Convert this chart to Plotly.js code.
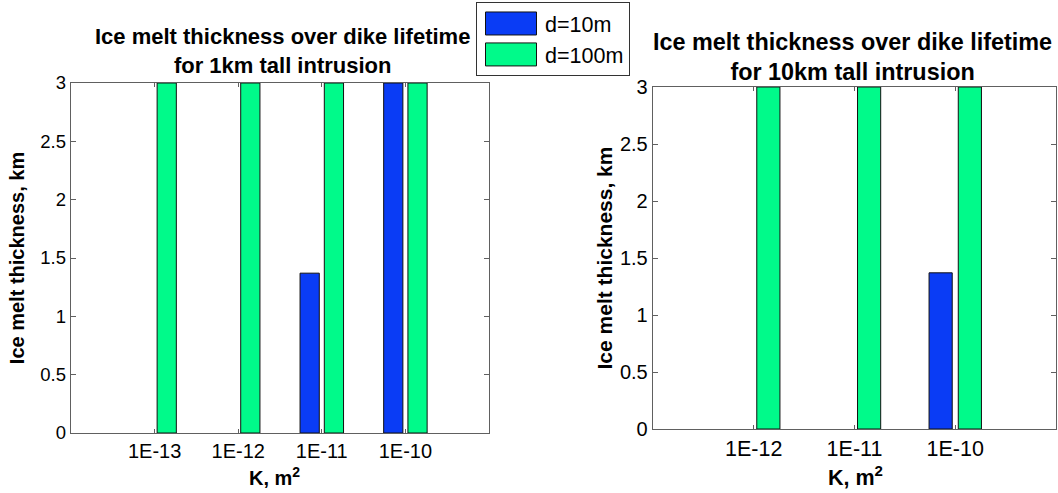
<!DOCTYPE html>
<html>
<head>
<meta charset="utf-8">
<script src="https://cdn.plot.ly/plotly-3.0.1.min.js"></script>
<style>html,body{margin:0;padding:0;background:#fff;}#chart{width:1058px;height:493px;}</style>
</head>
<body>
<div id="chart"></div>
<script>
// ---- data ----
const seriesNames = ['d=10m', 'd=100m'];
const catsLeft = ['1E-13', '1E-12', '1E-11', '1E-10'];
const d10Left = [null, null, 1.37, 3];
const d100Left = [3, 3, 3, 3];
const catsRight = ['1E-12', '1E-11', '1E-10'];
const d10Right = [null, null, 1.37];
const d100Right = [3, 3, 3];
const yTicks = [0, 0.5, 1, 1.5, 2, 2.5, 3];
const yTickText = ['0', '0.5', '1', '1.5', '2', '2.5', '3'];
const titleLeft = 'Ice melt thickness over dike lifetime<br>for 1km tall intrusion';
const titleRight = 'Ice melt thickness over dike lifetime<br>for 10km tall intrusion';
const yTitle = 'Ice melt thickness, km';
const xTitle = 'K, m<sup>2</sup>';

// ---- styles ----
const blue = '#0a3cf5';
const green = '#00fa8a';
const W = 1058, H = 493;
const FONT = 'Liberation Sans, Arial, Helvetica, sans-serif';
const axisCol = '#606060';

function bar(x, y, name, color, offset, xa, ya, showlegend) {
  return {type: 'bar', x: x, y: y, name: name, xaxis: xa, yaxis: ya,
    marker: {color: color, line: {color: '#111', width: 1}},
    offset: offset, width: 0.23, showlegend: showlegend, legendgroup: name, hoverinfo: 'skip'};
}

const traces = [
  bar(catsLeft, d10Left, seriesNames[0], blue, -0.26, 'x', 'y', true),
  bar(catsLeft, d100Left, seriesNames[1], green, 0.03, 'x', 'y', true),
  bar(catsRight, d10Right, seriesNames[0], blue, -0.26, 'x2', 'y2', false),
  bar(catsRight, d100Right, seriesNames[1], green, 0.03, 'x2', 'y2', false)
];

function xaxisDef(dom, anchor, cats, fs) {
  return {domain: dom, anchor: anchor, type: 'category', categoryorder: 'array', categoryarray: cats,
    range: [-1, cats.length], showgrid: false, zeroline: false, showline: true, linecolor: axisCol, linewidth: 1.3,
    mirror: 'ticks', ticks: 'inside', ticklen: 4, tickcolor: axisCol,
    tickfont: {family: FONT, size: fs, color: '#000'},
    fixedrange: true};
}
function yaxisDef(dom, anchor, fs, tfs, standoff) {
  return {domain: dom, anchor: anchor, range: [0, 3], tickvals: yTicks, ticktext: yTickText,
    showgrid: false, zeroline: false, showline: true, linecolor: axisCol, linewidth: 1.3,
    mirror: 'ticks', ticks: 'inside', ticklen: 5, tickcolor: axisCol,
    tickfont: {family: FONT, size: fs, color: '#000'},
    title: {text: yTitle, font: {family: FONT, size: tfs, color: '#000', weight: 'bold'}, standoff: standoff},
    fixedrange: true};
}

function ann(text, x, y, size, yanchor) {
  return {text: '<b>' + text + '</b>', xref: 'paper', yref: 'paper', x: x / W, y: 1 - y / H,
    xanchor: 'center', yanchor: yanchor || 'middle', showarrow: false, font: {family: FONT, size: size, color: '#000'}};
}

const layout = {
  width: W, height: H,
  margin: {l: 0, r: 0, t: 0, b: 0},
  paper_bgcolor: '#fff', plot_bgcolor: '#fff',
  barmode: 'overlay',
  font: {family: FONT, color: '#000'},
  xaxis: xaxisDef([71 / W, 489 / W], 'y', catsLeft, 20),
  yaxis: yaxisDef([1 - 433 / H, 1 - 83 / H], 'x', 18.5, 20, 10),
  xaxis2: xaxisDef([653 / W, 1056 / W], 'y2', catsRight, 21.5),
  yaxis2: yaxisDef([1 - 429 / H, 1 - 87 / H], 'x2', 20, 21, 1),
  legend: {x: 476 / W, y: 1 - 2 / H, xanchor: 'left', yanchor: 'top',
    bgcolor: '#fff', bordercolor: '#333', borderwidth: 1,
    font: {family: FONT, size: 21.5, color: '#000'}, itemwidth: 58, tracegroupgap: 0},
  annotations: [
    ann(titleLeft, 282, 51, 22),
    ann(titleRight, 852, 57, 23.4),
    ann(xTitle, 274, 491, 20, 'bottom'),
    ann(xTitle, 855, 492, 21.5, 'bottom')
  ],
  showlegend: true
};

Plotly.newPlot('chart', traces, layout, {displayModeBar: false, staticPlot: true}).then(function () {
  document.querySelectorAll('.legend .legendpoints path').forEach(function (p) {
    p.setAttribute('d', 'M25.5,11.5H-25.5V-11.5H25.5Z');
  });
});
</script>
</body>
</html>
